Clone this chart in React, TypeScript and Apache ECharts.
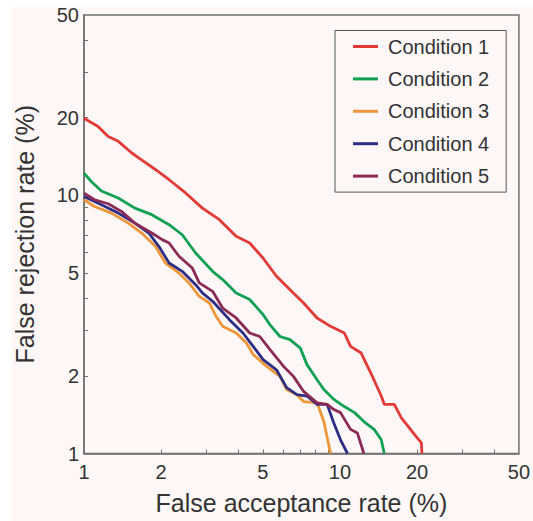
import React, { useEffect, useRef } from "react";
import * as echarts from "echarts";

const seriesNames = ["Condition 1", "Condition 2", "Condition 3", "Condition 4", "Condition 5"];
const seriesColors = ["#e23a35", "#12a052", "#ef963a", "#2c2d84", "#8b2a55"];

const condition1: number[][] = [
  [1, 19.9], [1.135, 18.5], [1.243, 16.9], [1.362, 16.2], [1.537, 14.6], [1.684, 13.7],
  [1.9, 12.6], [2.15, 11.5], [2.5, 10.2], [2.9, 8.93], [3.38, 8.05], [3.93, 6.94],
  [4.44, 6.54], [5.01, 5.71], [5.65, 4.86], [6.38, 4.31], [7.21, 3.83], [8.14, 3.35],
  [9.19, 3.11], [10.4, 2.93], [11.0, 2.6], [12.1, 2.45], [13.2, 2.05], [14.5, 1.67],
  [14.9, 1.55], [16.3, 1.55], [17.4, 1.37], [18.4, 1.28], [19.6, 1.18], [20.8, 1.1], [20.9, 1.0],
];
const condition2: number[][] = [
  [1, 12.2], [1.07, 11.3], [1.17, 10.4], [1.36, 9.77], [1.58, 8.93], [1.84, 8.42],
  [2.15, 7.7], [2.42, 7.04], [2.73, 5.98], [3.18, 5.08], [3.48, 4.72], [3.93, 4.19],
  [4.44, 3.95], [5.01, 3.45], [5.32, 3.16], [5.83, 2.84], [6.38, 2.76], [7.0, 2.56],
  [7.43, 2.21], [8.14, 1.93], [8.65, 1.77], [9.47, 1.62], [10.4, 1.52], [11.4, 1.44],
  [12.4, 1.33], [13.6, 1.24], [14.5, 1.13], [14.9, 1.0],
];
const condition3: number[][] = [
  [1, 9.62], [1.1, 9.06], [1.28, 8.54], [1.49, 7.81], [1.68, 7.15], [1.9, 6.35],
  [2.08, 5.47], [2.35, 5.0], [2.57, 4.58], [2.82, 4.06], [3.09, 3.83], [3.28, 3.4],
  [3.48, 3.11], [3.93, 2.93], [4.31, 2.68], [4.58, 2.42], [5.16, 2.18], [5.83, 1.99],
  [6.19, 1.77], [6.79, 1.69], [7.21, 1.59], [8.14, 1.57], [8.65, 1.33], [9.19, 1.0],
];
const condition4: number[][] = [
  [1, 9.91], [1.17, 9.2], [1.36, 8.54], [1.58, 7.81], [1.79, 7.15], [1.96, 6.35],
  [2.15, 5.47], [2.42, 5.08], [2.73, 4.51], [2.9, 4.19], [3.18, 3.89], [3.7, 3.3],
  [4.18, 2.93], [4.58, 2.6], [5.01, 2.31], [5.65, 2.11], [6.19, 1.8], [6.79, 1.69],
  [7.43, 1.67], [8.14, 1.55], [8.91, 1.55], [9.47, 1.31], [10.05, 1.13], [10.7, 1.0],
];
const condition5: number[][] = [
  [1, 10.2], [1.1, 9.62], [1.243, 9.28], [1.4, 8.67], [1.58, 7.81], [1.84, 7.15],
  [2.02, 6.74], [2.15, 6.54], [2.35, 5.81], [2.65, 5.23], [2.82, 4.58], [3.18, 4.25],
  [3.48, 3.66], [3.93, 3.35], [4.44, 2.93], [4.86, 2.84], [5.32, 2.53], [6.01, 2.18],
  [6.58, 1.99], [7.21, 1.74], [8.14, 1.57], [8.91, 1.55], [9.47, 1.48], [10.05, 1.44],
  [11.0, 1.24], [11.7, 1.2], [12.4, 1.0],
];
const allSeries = [condition1, condition2, condition3, condition4, condition5];

const tickLabels = [1, 2, 5, 10, 20, 50];
const minorTicks = [2, 3, 4, 5, 6, 7, 8, 9, 20, 30, 40];

export default function App() {
  const ref = useRef<HTMLDivElement>(null);
  useEffect(() => {
    document.body.style.margin = "0";
    const chart = echarts.init(ref.current!, null, { renderer: "svg" });
    const axisCommon = {
      type: "log" as const,
      logBase: 10,
      min: 1,
      max: 50,
      axisLine: { show: true, lineStyle: { color: "#707070", width: 1.5 } },
      axisTick: { show: true, inside: true, length: 4, customValues: minorTicks, lineStyle: { color: "#707070", width: 1 } },
      axisLabel: { customValues: tickLabels, color: "#333", fontSize: 20, fontFamily: "Liberation Sans, Arial, sans-serif" },
      splitLine: { show: false },
      minorTick: { show: false },
      nameLocation: "middle" as const,
      nameTextStyle: { color: "#333", fontSize: 25, fontFamily: "Liberation Sans, Arial, sans-serif" },
    };
    chart.setOption({
      animation: false,
      backgroundColor: "#ffffff",
      graphic: [
        { type: "rect", z: -10, shape: { x: 12, y: 7, width: 521, height: 514 }, style: { fill: "#fdf8f7" } },
      ],
      grid: { left: 84, right: 9, top: 15, bottom: 67.5, show: true, borderColor: "#707070", borderWidth: 1.5, containLabel: false },
      xAxis: { ...axisCommon, name: "False acceptance rate (%)", nameGap: 37, axisLabel: { ...axisCommon.axisLabel, margin: 8 } },
      yAxis: { ...axisCommon, name: "False rejection rate (%)", nameGap: 47, axisLabel: { ...axisCommon.axisLabel, margin: 5 } },
      legend: {
        orient: "vertical",
        left: 335,
        top: 30.5,
        padding: [6, 17, 6, 18],
        borderColor: "#555",
        borderWidth: 1,
        backgroundColor: "#fdf8f7",
        icon: "rect",
        itemWidth: 25,
        itemHeight: 3,
        itemGap: 12.4,
        data: seriesNames,
        textStyle: { color: "#333", fontSize: 20, lineHeight: 20, padding: [0, 0, 0, 5], fontFamily: "Liberation Sans, Arial, sans-serif" },
      },
      series: allSeries.map((d, i) => ({
        type: "line",
        name: seriesNames[i],
        data: d,
        showSymbol: false,
        symbol: "none",
        color: seriesColors[i],
        lineStyle: { color: seriesColors[i], width: 2.8 },
        clip: true,
      })),
    });
    return () => chart.dispose();
  }, []);
  return <div ref={ref} style={{ width: 533, height: 521 }} />;
}
